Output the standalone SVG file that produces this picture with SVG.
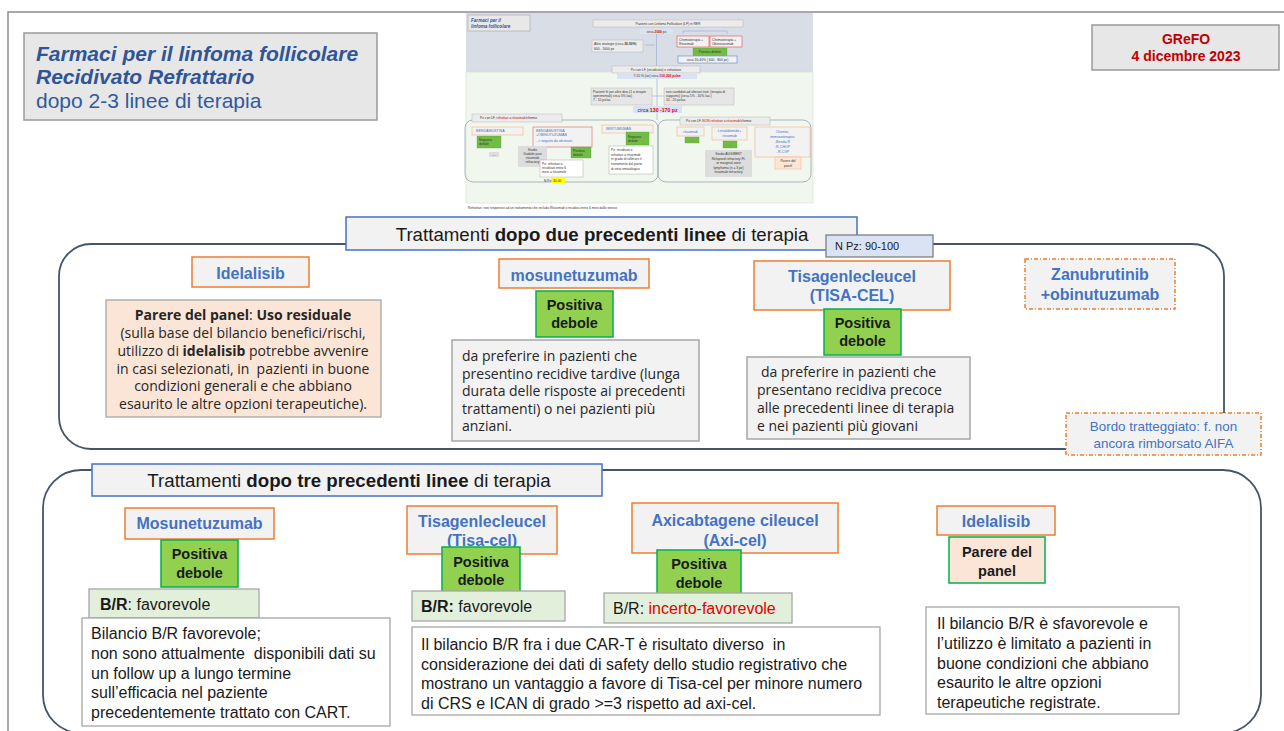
<svg xmlns="http://www.w3.org/2000/svg" width="1284" height="731" viewBox="0 0 1284 731">
<style>
.frame{fill:none;stroke:#8c8c8c;stroke-width:1.5}
.cont{fill:none;stroke:#44546a;stroke-width:1.8}
.hdr{fill:#f2f2f2;stroke:#4472c4;stroke-width:1.5}
.drug{fill:#f2f2f2;stroke:#ed7d31;stroke-width:1.5}
.drugd{fill:#f2f2f2;stroke:#ed7d31;stroke-width:1.5;stroke-dasharray:4 2 1 2}
.pos{fill:#92d050;stroke:#00b050;stroke-width:1.5}
.gbox{fill:#f2f2f2;stroke:#a6a6a6;stroke-width:1.5}
.wbox{fill:#ffffff;stroke:#a6a6a6;stroke-width:1.3}
.br{fill:#e2efda;stroke:#a6a6a6;stroke-width:1.3}
.peach{fill:#fbe5d6;stroke:#a6a6a6;stroke-width:1.3}
.s{font-family:"Liberation Sans",Arial,sans-serif}
.o{font-family:"Open Sans","Noto Sans",sans-serif;font-size:14px;fill:#262626}
.dn{font-family:"Liberation Sans",Arial,sans-serif;font-weight:bold;font-size:16px;fill:#4472c4;text-anchor:middle}
.pd{font-family:"Liberation Sans",Arial,sans-serif;font-weight:bold;font-size:14.5px;fill:#1a1a1a;text-anchor:middle}
.t16{font-family:"Liberation Sans",Arial,sans-serif;font-size:16px;fill:#1a1a1a}
.hd{font-family:"Liberation Sans",Arial,sans-serif;font-size:18.7px;fill:#1a1a1a;text-anchor:middle}
.b{font-weight:bold}
.red{fill:#e00000}
.tn{font-family:"Liberation Sans",Arial,sans-serif;font-size:3.3px;fill:#333}
.tnb{font-family:"Liberation Sans",Arial,sans-serif;font-size:3.6px;fill:#4472c4}
.tbx{fill:#ececec;stroke:#aaaaaa;stroke-width:0.4}
.tor{fill:#f2f2f2;stroke:#f4b183;stroke-width:0.6}
.tgr{fill:#72bb45;stroke:#5a9a35;stroke-width:0.3}
.tln{stroke:#8faadc;stroke-width:0.6;fill:none}
</style>

<g id="frame">
<path class="frame" d="M8,731 V12 H1284"/>
</g>

<g id="title">
<rect x="24" y="33" width="353" height="87" fill="#e7e7e7" stroke="#9a9a9a" stroke-width="1.5"/>
<text class="s" x="36" y="61" font-size="21" font-weight="bold" font-style="italic" fill="#2f5597">Farmaci per il linfoma follicolare</text>
<text class="s" x="36" y="84" font-size="21" font-weight="bold" font-style="italic" fill="#2f5597">Recidivato Refrattario</text>
<text class="s" x="36" y="108" font-size="21" fill="#2f5a9e">dopo 2-3 linee di terapia</text>
</g>

<g id="grefo">
<rect x="1092" y="25" width="187" height="45" fill="#e7e7e7" stroke="#9a9a9a" stroke-width="1.5"/>
<text class="s" x="1186" y="44" font-size="14" font-weight="bold" fill="#c00000" text-anchor="middle">GReFO</text>
<text class="s" x="1186" y="61" font-size="14" font-weight="bold" fill="#c00000" text-anchor="middle">4 dicembre 2023</text>
</g>

<g id="thumbnail">
<rect x="466" y="13" width="347" height="59" fill="#d8dde6"/>
<rect x="466" y="72" width="347" height="131" fill="#f1f6ee" stroke="#d3dfcb" stroke-width="0.6"/>
<rect x="468" y="15" width="62" height="16" fill="#e8e8e8" stroke="#999" stroke-width="0.5"/>
<text class="s" x="471" y="21.5" font-size="4.6" font-weight="bold" font-style="italic" fill="#2f5597">Farmaci per il</text>
<text class="s" x="471" y="27.5" font-size="4.6" font-weight="bold" font-style="italic" fill="#2f5597">linfoma follicolare</text>
<path class="tln" d="M656.5,34 V66 M645,45 H655 M683,34 V31 H727 V34"/>
<rect class="tbx" x="593" y="20" width="150" height="7"/>
<text class="tn" x="668" y="24.6" text-anchor="middle">Pazienti con Linfoma Follicolare (LF) in RER</text>
<rect x="640" y="28.5" width="33" height="5.5" fill="#dae3f3"/>
<text class="tn" x="656.5" y="32.6" text-anchor="middle">circa <tspan class="red b">2000</tspan> pz</text>
<rect class="tbx" x="592" y="40" width="51" height="12"/>
<text class="tn" x="594" y="45">Altre strategie (circa <tspan class="b">30-50%</tspan>)</text>
<text class="tn red" x="594" y="49.5">600 - 1000 pz</text>
<rect x="677" y="36" width="32" height="11" fill="#f2f2f2" stroke="#e03030" stroke-width="0.5"/>
<text class="tn" x="679" y="40.5">Chemioterapia +</text>
<text class="tn red" x="679" y="45">Rituximab</text>
<rect x="710" y="36" width="32" height="11" fill="#f2f2f2" stroke="#e03030" stroke-width="0.5"/>
<text class="tn" x="712" y="40.5">Chemioterapia +</text>
<text class="tn red" x="712" y="45">Obinutuzumab</text>
<rect class="tgr" x="693" y="48" width="34" height="7.5"/>
<text class="tn" x="710" y="53" text-anchor="middle">Positiva debole</text>
<rect x="678" y="56" width="59" height="7" fill="#f2f2f2" stroke="#4472c4" stroke-width="0.5"/>
<text class="tn" x="707.5" y="60.8" text-anchor="middle">circa 30-40% ( 600 - 800 pz)</text>
<rect class="tbx" x="612" y="66" width="88" height="7"/>
<text class="tn" x="656" y="70.6" text-anchor="middle">Pz con LF, (recidivato) e refrattario</text>
<rect x="617" y="73" width="80" height="6" fill="#dae3f3"/>
<text class="tn" x="657" y="77.3" text-anchor="middle">7-10 % (se) circa <tspan class="red b">130-200 pz/aa</tspan></text>
<path class="tln" d="M657,79 V106 M652,96 H657 H664"/>
<rect x="591" y="88" width="61" height="17" fill="#e6e6e6" stroke="#aaa" stroke-width="0.4"/>
<text class="tn" x="593" y="92.5">Pazienti fit per altre dosi (1 a terapie</text>
<text class="tn" x="593" y="96.8">sperimentali) circa 5% /aa)</text>
<text class="tn red" x="593" y="101.3">7 - 10 pz/aa</text>
<rect x="664" y="88" width="70" height="17" fill="#e6e6e6" stroke="#aaa" stroke-width="0.4"/>
<text class="tn" x="666" y="92.5">non candidati ad ulteriori tratt. (terapia di</text>
<text class="tn" x="666" y="96.8">supporto) (circa 5% - 10% /aa )</text>
<text class="tn red" x="666" y="101.3">10 - 20 pz/aa</text>
<rect x="633" y="106" width="49" height="7" fill="#dae3f3"/>
<text class="s" x="657.5" y="111.6" font-size="5.2" fill="#333" text-anchor="middle">circa <tspan class="red b">130 -170  pz</tspan></text>
<path class="tln" d="M657,113 V120"/>
<rect x="465" y="120" width="193" height="62" rx="8" fill="none" stroke="#8a98a6" stroke-width="0.7"/>
<rect x="658" y="120" width="153" height="62" rx="8" fill="none" stroke="#8a98a6" stroke-width="0.7"/>
<rect class="tbx" x="472" y="114" width="90" height="8"/>
<text class="tn" x="480" y="119.3">Pz con LF, <tspan class="red">refrattari</tspan> a <tspan class="red">rituximab</tspan>/chemio</text>
<rect class="tbx" x="680" y="117" width="90" height="8"/>
<text class="tn" x="686" y="122.3">Pz con LF, <tspan class="red">NON refrattari</tspan> a <tspan class="red">rituximab</tspan>/chemio</text>
<rect class="tor" x="472" y="127" width="51" height="8"/>
<text class="tnb" x="476" y="132.4">BENDAMUSTINA</text>
<rect class="tgr" x="477" y="136" width="24" height="12"/>
<text class="tn" x="479" y="141">Negativa</text>
<text class="tn" x="479" y="145">debole</text>
<rect x="489" y="152" width="10" height="5" fill="#dddddd"/>
<text class="tn" x="494" y="155.6" text-anchor="middle">....</text>
<rect x="533" y="127" width="59" height="20" fill="#f2f2f2" stroke="#e06060" stroke-width="0.6"/>
<text class="tnb" x="536" y="131.8">BENDAMUSTINA</text>
<text class="tnb" x="536" y="136">+OBINUTUZUMAB</text>
<text class="tnb" x="537" y="141.5">-&gt; seguito da ob.mant.</text>
<rect x="518" y="146" width="29" height="21" fill="#dddddd"/>
<text class="tn" x="532.5" y="151" text-anchor="middle">Studio</text>
<text class="tn" x="532.5" y="155" text-anchor="middle">Gadolin pazi</text>
<text class="tn" x="532.5" y="159" text-anchor="middle">rituximab</text>
<text class="tn" x="532.5" y="163" text-anchor="middle">refractory</text>
<rect class="tgr" x="571" y="147" width="20" height="11"/>
<text class="tn" x="573" y="151.5">Positiva</text>
<text class="tn" x="573" y="155.5">debole</text>
<rect x="540" y="160" width="43" height="17" fill="#fff" stroke="#999" stroke-width="0.4"/>
<text class="tn" x="542" y="164.6">Pz: refrattari o</text>
<text class="tn" x="542" y="168.8">recidivati entro  6</text>
<text class="tn" x="542" y="173">mesi a rituximab</text>
<rect x="551" y="178" width="14" height="5" fill="#ffff00"/>
<text class="tn" x="544" y="181.8">N Pz: 30-40</text>
<rect class="tor" x="602" y="125" width="51" height="8"/>
<text class="tnb" x="606" y="130.4">IBRITUMUMAB</text>
<rect class="tgr" x="626" y="132" width="23" height="13"/>
<text class="tn" x="628" y="137.5">Negativa</text>
<text class="tn" x="628" y="141.5">debole</text>
<rect x="609" y="146" width="44" height="28" fill="#fff" stroke="#999" stroke-width="0.4"/>
<text class="tn" x="611" y="151">Pz: recidivati o</text>
<text class="tn" x="611" y="155.5">refrattari  a rituximab</text>
<text class="tn" x="611" y="160">in grado di tollerare il</text>
<text class="tn" x="611" y="164.5">trattamento dal punto</text>
<text class="tn" x="611" y="169.5">di vista ematologico</text>
<rect class="tor" x="677" y="127" width="27" height="9"/>
<text class="tnb" x="690.5" y="132.8" text-anchor="middle">rituximab</text>
<rect class="tgr" x="685" y="137" width="14" height="6"/>
<text class="tn" x="692" y="141" text-anchor="middle">...</text>
<rect class="tor" x="712" y="127" width="35" height="13"/>
<text class="tnb" x="729.5" y="132" text-anchor="middle">Lenalidomide+</text>
<text class="tnb" x="729.5" y="137" text-anchor="middle">rituximab</text>
<rect class="tgr" x="723" y="141" width="14" height="7"/>
<text class="tn" x="730" y="145.5" text-anchor="middle">...</text>
<rect x="705" y="150" width="47" height="27" fill="#dddddd"/>
<text class="tn" x="728.5" y="155" text-anchor="middle">Studio AUGMENT</text>
<text class="tn" x="728.5" y="159.5" text-anchor="middle">Relapsed refractory FL</text>
<text class="tn" x="728.5" y="164" text-anchor="middle">or marginal zone</text>
<text class="tn" x="728.5" y="168.5" text-anchor="middle">lymphoma (n = 3 pz)</text>
<text class="tn" x="728.5" y="173" text-anchor="middle">rituximab refractory</text>
<rect class="tor" x="755" y="127" width="55" height="30"/>
<text class="tnb" x="782.5" y="133" text-anchor="middle">Chemio-</text>
<text class="tnb" x="782.5" y="138" text-anchor="middle">immunoterapia:</text>
<text class="tnb" x="782.5" y="143" text-anchor="middle">-Benda-R</text>
<text class="tnb" x="782.5" y="148" text-anchor="middle">-R-CHOP</text>
<text class="tnb" x="782.5" y="153" text-anchor="middle">- R-CVP</text>
<rect x="775" y="157" width="26" height="12" fill="#fbe5d6" stroke="#f4b183" stroke-width="0.5"/>
<text class="tn" x="788" y="162" text-anchor="middle">Parere del</text>
<text class="tn" x="788" y="166.5" text-anchor="middle">panel</text>
<text class="tn" x="468" y="208.5">Refrattari: non responsivi ad un trattamento che includa Rituximab o recidiva entro 6 mesi dallo stesso</text>
</g>

<g id="connectors">
<rect class="cont" x="59" y="244" width="1165" height="205" rx="32"/>
<rect class="cont" x="43" y="470" width="1218" height="263" rx="38"/>
</g>

<g id="hdr-two">
<rect class="hdr" x="346" y="217" width="511" height="33"/>
<text class="hd" x="602" y="241">Trattamenti <tspan class="b">dopo due precedenti linee</tspan> di terapia</text>
</g>
<g id="npz">
<rect x="826" y="235" width="107" height="22" fill="#dae3f3" stroke="#7f7f7f" stroke-width="1.3"/>
<text class="s" x="835" y="250" font-size="11" fill="#1a1a1a">N Pz: 90-100</text>
</g>

<g id="idelalisib-2">
<rect class="drug" x="192" y="257" width="117" height="30"/>
<text class="dn" x="250.5" y="279">Idelalisib</text>
<rect class="peach" x="106" y="300" width="275" height="117"/>
<text class="o" x="243" y="320" text-anchor="middle"><tspan class="b">Parere del panel</tspan>: <tspan class="b">Uso residuale</tspan></text>
<text class="o" x="243" y="338" text-anchor="middle">(sulla base del bilancio benefici/rischi,</text>
<text class="o" x="243" y="356" text-anchor="middle">utilizzo di <tspan class="b">idelalisib</tspan> potrebbe avvenire</text>
<text class="o" x="243" y="373.5" text-anchor="middle" xml:space="preserve">in casi selezionati, in  pazienti in buone</text>
<text class="o" x="243" y="391" text-anchor="middle">condizioni generali e che abbiano</text>
<text class="o" x="243" y="409" text-anchor="middle">esaurito le altre opzioni terapeutiche).</text>
</g>

<g id="mosunetuzumab-2">
<rect class="drug" x="499" y="259" width="150" height="29"/>
<text class="dn" x="574" y="281">mosunetuzumab</text>
<rect class="pos" x="536" y="291" width="77" height="46"/>
<text class="pd" x="574.5" y="310">Positiva</text>
<text class="pd" x="574.5" y="328">debole</text>
<rect class="gbox" x="452" y="340" width="247" height="101"/>
<text class="o" x="462" y="361">da preferire in pazienti che</text>
<text class="o" x="462" y="378.5">presentino recidive tardive (lunga</text>
<text class="o" x="462" y="396">durata delle risposte ai precedenti</text>
<text class="o" x="462" y="413.5">trattamenti) o nei pazienti più</text>
<text class="o" x="462" y="431">anziani.</text>
</g>

<g id="tisacel-2">
<rect class="drug" x="754" y="261" width="196" height="49"/>
<text class="dn" x="852" y="282">Tisagenlecleucel</text>
<text class="dn" x="852" y="301">(TISA-CEL)</text>
<rect class="pos" x="824" y="309" width="77" height="46"/>
<text class="pd" x="862.5" y="328">Positiva</text>
<text class="pd" x="862.5" y="346">debole</text>
<rect class="gbox" x="747" y="357" width="223" height="82"/>
<text class="o" x="761" y="377">da preferire in pazienti che</text>
<text class="o" x="757" y="394.5">presentano recidiva precoce</text>
<text class="o" x="757" y="412.5">alle precedenti linee di terapia</text>
<text class="o" x="757" y="430.5">e nei pazienti più giovani</text>
</g>

<g id="zanubrutinib">
<rect class="drugd" x="1025" y="259" width="150" height="50"/>
<text class="dn" x="1100" y="280">Zanubrutinib</text>
<text class="dn" x="1100" y="300">+obinutuzumab</text>
</g>

<g id="legend">
<rect class="drugd" x="1066" y="413" width="195" height="42"/>
<text class="s" x="1163.5" y="431" font-size="13.4" fill="#4472c4" text-anchor="middle">Bordo tratteggiato: f. non</text>
<text class="s" x="1163.5" y="448" font-size="13.4" fill="#4472c4" text-anchor="middle">ancora rimborsato AIFA</text>
</g>

<g id="hdr-three">
<rect class="hdr" x="92" y="464" width="510" height="32"/>
<text class="hd" x="349" y="487">Trattamenti <tspan class="b">dopo tre precedenti linee</tspan> di terapia</text>
</g>

<g id="mosunetuzumab-3">
<rect class="drug" x="125" y="508" width="149" height="31"/>
<text class="dn" x="199.5" y="529">Mosunetuzumab</text>
<rect class="pos" x="161" y="540" width="77" height="47"/>
<text class="pd" x="199.5" y="559">Positiva</text>
<text class="pd" x="199.5" y="578">debole</text>
<rect class="br" x="89" y="589" width="170" height="29"/>
<text class="t16" x="100" y="610"><tspan class="b">B/R</tspan>: favorevole</text>
<rect class="wbox" x="82" y="618" width="308" height="108"/>
<text class="t16" x="91" y="639">Bilancio B/R favorevole;</text>
<text class="t16" x="91" y="659" xml:space="preserve">non sono attualmente  disponibili dati su</text>
<text class="t16" x="91" y="678.5">un follow up a lungo termine</text>
<text class="t16" x="91" y="698">sull’efficacia nel paziente</text>
<text class="t16" x="91" y="717.5">precedentemente trattato con CART.</text>
</g>

<g id="tisacel-3">
<rect class="drug" x="407" y="506" width="150" height="48"/>
<text class="dn" x="482" y="527">Tisagenlecleucel</text>
<text class="dn" x="482" y="546">(Tisa-cel)</text>
<rect class="pos" x="442" y="547" width="78" height="47"/>
<text class="pd" x="481" y="567">Positiva</text>
<text class="pd" x="481" y="585">debole</text>
<rect class="br" x="412" y="591" width="153" height="30"/>
<text class="t16" x="421" y="612"><tspan class="b">B/R:</tspan> favorevole</text>
<rect class="wbox" x="412" y="627" width="468" height="88"/>
<text class="t16" x="421" y="650" xml:space="preserve">Il bilancio B/R fra i due CAR-T è risultato diverso  in</text>
<text class="t16" x="421" y="669.5">considerazione dei dati di safety dello studio registrativo che</text>
<text class="t16" x="421" y="689">mostrano un vantaggio a favore di Tisa-cel per minore numero</text>
<text class="t16" x="421" y="708.5">di CRS e ICAN di grado &gt;=3 rispetto ad axi-cel.</text>
</g>

<g id="axicel-3">
<rect class="drug" x="632" y="503" width="206" height="50"/>
<text class="dn" x="735" y="526">Axicabtagene cileucel</text>
<text class="dn" x="735" y="546">(Axi-cel)</text>
<rect class="pos" x="657" y="550" width="84" height="44"/>
<text class="pd" x="699" y="569">Positiva</text>
<text class="pd" x="699" y="587.5">debole</text>
<rect class="br" x="604" y="593" width="188" height="30"/>
<text class="t16" x="613" y="614">B/R: <tspan class="red" fill="#c00000">incerto-favorevole</tspan></text>
</g>

<g id="idelalisib-3">
<rect class="drug" x="937" y="506" width="118" height="29"/>
<text class="dn" x="996" y="527">Idelalisib</text>
<rect x="949" y="537" width="96" height="46" fill="#fbe5d6" stroke="#00b050" stroke-width="1.5"/>
<text class="pd" x="997" y="557">Parere del</text>
<text class="pd" x="997" y="575.5">panel</text>
<rect class="wbox" x="926" y="607" width="253" height="107"/>
<text class="t16" x="937" y="629">Il bilancio B/R è sfavorevole e</text>
<text class="t16" x="937" y="649">l’utilizzo è limitato a pazienti in</text>
<text class="t16" x="937" y="668.5">buone condizioni che abbiano</text>
<text class="t16" x="937" y="688">esaurito le altre opzioni</text>
<text class="t16" x="937" y="708">terapeutiche registrate.</text>
</g>
</svg>
